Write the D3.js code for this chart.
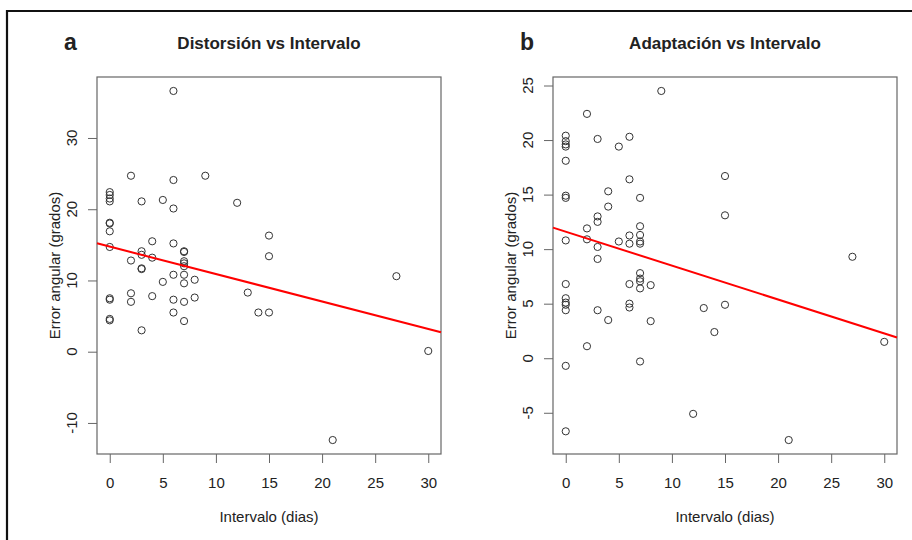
<!DOCTYPE html>
<html>
<head>
<meta charset="utf-8">
<script src="https://cdn.jsdelivr.net/npm/d3@7"></script>
<style>
  body { margin: 0; background: #fff; }
  text { font-family: "Liberation Sans", Arial, sans-serif; fill: #222; }
</style>
</head>
<body>
<div class="vis"></div>
<script>
// panel a: distorsión
const distX = [0,0,0,0,0,0,0,0,0,0,0,0, 2,2,2,2, 3,3,3,3,3,3, 4,4,4, 5,5,
  6,6,6,6,6,6,6, 7,7,7,7,7,7,7,7,7, 8,8, 9, 12, 13, 14, 15,15,15, 21, 27, 30];
const distY = [22.4,22.0,21.5,21.1,18.1,18.0,16.9,14.7,7.5,7.3,4.6,4.4,
  24.7,12.8,8.2,7.0, 21.1,14.1,13.6,11.7,11.6,3.0, 15.5,13.2,7.8, 21.3,9.8,
  36.6,24.1,20.1,15.2,10.8,7.3,5.5, 14.1,14.0,12.7,12.4,12.0,10.8,9.6,7.0,4.3,
  10.1,7.6, 24.7, 20.9, 8.3, 5.5, 16.3,13.4,5.5, -12.4, 10.6, 0.1];

// panel b: adaptación
const adapX = [0,0,0,0,0,0,0,0,0,0,0,0,0,0,0, 2,2,2,2, 3,3,3,3,3,3, 4,4,4, 5,5,
  6,6,6,6,6,6,6, 7,7,7,7,7,7,7,7,7,7, 8,8, 9, 12, 13, 14, 15,15,15, 21, 27, 30];
const adapY = [20.4,19.9,19.6,19.4,18.1,14.9,14.7,10.8,6.8,5.5,5.1,4.9,4.4,-0.7,-6.7,
  22.4,11.9,10.9,1.1, 20.1,13.0,12.5,10.2,9.1,4.4, 15.3,13.9,3.5, 19.4,10.7,
  20.3,16.4,11.25,10.5,6.8,5.0,4.65, 14.7,12.1,11.3,10.7,10.5,7.8,7.3,7.05,6.4,-0.3,
  6.7,3.4, 24.5, -5.1, 4.6, 2.4, 16.7,13.1,4.9, -7.5, 9.3, 1.5];

// fitted lines (intercept, slope)
const distFit = [14.75, -0.385];
const adapFit = [11.6, -0.311];

const xTicks = [0, 5, 10, 15, 20, 25, 30];
const distYTicks = [-10, 0, 10, 20, 30];
const adapYTicks = [-5, 0, 5, 10, 15, 20, 25];

const titles = ["Distorsión vs Intervalo", "Adaptación vs Intervalo"];
const letters = ["a", "b"];
const xLabel = "Intervalo (dias)";
const yLabel = "Error angular (grados)";

const svg = d3.select('.vis').append('svg')
  .attr('width', 912)
  .attr('height', 540);

// outer frame (left and top only)
svg.append('path')
  .attr('d', 'M7,540 V11 H912')
  .attr('fill', 'none')
  .attr('stroke', '#111')
  .attr('stroke-width', 2.2);

// R-style range: extend data range by 4% each side
const rRange = (vals) => {
  const [lo, hi] = d3.extent(vals);
  const pad = (hi - lo) * 0.04;
  return [lo - pad, hi + pad];
};

const panels = [
  { left: 97, xs: distX, ys: distY, fit: distFit, yTicks: distYTicks },
  { left: 553, xs: adapX, ys: adapY, fit: adapFit, yTicks: adapYTicks }
];

const boxW = 344, boxTop = 77, boxBottom = 454;

panels.forEach((p, i) => {
  const g = svg.append('g');
  const x = d3.scaleLinear().domain(rRange(p.xs)).range([p.left, p.left + boxW]);
  const y = d3.scaleLinear().domain(rRange(p.ys)).range([boxBottom, boxTop]);

  // x axis
  const xAxis = g.append('g')
    .attr('transform', 'translate(0,' + boxBottom + ')')
    .call(d3.axisBottom(x).tickValues(xTicks).tickSize(9).tickPadding(14).tickSizeOuter(0));
  xAxis.select('.domain').remove();
  xAxis.selectAll('line').attr('stroke', '#666');
  xAxis.selectAll('text').style('font-size', '15px').attr('fill', '#222')
    .style('font-family', '"Liberation Sans", Arial, sans-serif');

  // y axis ticks
  const yAxis = g.append('g')
    .attr('transform', 'translate(' + p.left + ',0)')
    .call(d3.axisLeft(y).tickValues(p.yTicks).tickSize(9).tickFormat(''));
  yAxis.select('.domain').remove();
  yAxis.selectAll('line').attr('stroke', '#666');

  // rotated y tick labels
  g.selectAll('.ylab')
    .data(p.yTicks)
    .enter().append('text')
    .attr('class', 'ylab')
    .attr('transform', d => 'translate(' + (p.left - 20) + ',' + y(d) + ') rotate(-90)')
    .attr('text-anchor', 'middle')
    .style('font-size', '15px')
    .text(d => d);

  // box
  g.append('rect')
    .attr('x', p.left)
    .attr('y', boxTop)
    .attr('width', boxW)
    .attr('height', boxBottom - boxTop)
    .attr('fill', 'none')
    .attr('stroke', '#666')
    .attr('stroke-width', 1.2);

  // points
  const pts = p.xs.map((v, j) => [v, p.ys[j]]);
  g.selectAll('circle')
    .data(pts)
    .enter().append('circle')
    .attr('cx', d => x(d[0]))
    .attr('cy', d => y(d[1]))
    .attr('r', 3.6)
    .attr('fill', 'none')
    .attr('stroke', '#333')
    .attr('stroke-width', 1);

  // regression line across the box
  const xd = x.domain();
  g.append('line')
    .attr('x1', x(xd[0]))
    .attr('y1', y(p.fit[0] + p.fit[1] * xd[0]))
    .attr('x2', x(xd[1]))
    .attr('y2', y(p.fit[0] + p.fit[1] * xd[1]))
    .attr('stroke', '#ff0000')
    .attr('stroke-width', 2);

  const cx = p.left + boxW / 2;

  // title
  g.append('text')
    .attr('x', cx)
    .attr('y', 49)
    .attr('text-anchor', 'middle')
    .style('font-size', '17px')
    .style('font-weight', 'bold')
    .text(titles[i]);

  // panel letter
  g.append('text')
    .attr('x', p.left - 33)
    .attr('y', 50)
    .style('font-size', '23px')
    .style('font-weight', 'bold')
    .attr('fill', '#111')
    .text(letters[i]);

  // axis titles
  g.append('text')
    .attr('x', cx)
    .attr('y', 522)
    .attr('text-anchor', 'middle')
    .style('font-size', '15px')
    .text(xLabel);

  g.append('text')
    .attr('transform', 'translate(' + (p.left - 37) + ',' + ((boxTop + boxBottom) / 2) + ') rotate(-90)')
    .attr('text-anchor', 'middle')
    .style('font-size', '15px')
    .text(yLabel);
});
</script>
</body>
</html>
